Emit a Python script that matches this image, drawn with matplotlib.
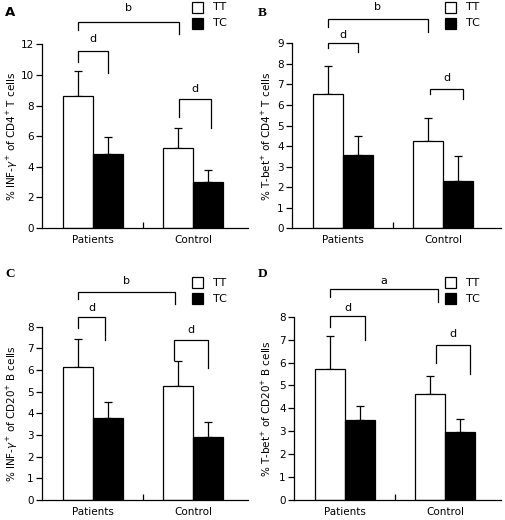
import matplotlib
matplotlib.use("Agg")
import matplotlib.pyplot as plt
from matplotlib.patches import Rectangle
import numpy as np

W, H = 506, 520

groups = ["Patients", "Control"]
series = ["TT", "TC"]

# panel A: INF-gamma+ of CD4+ T cells
a_tt = [8.65, 5.2]
a_tt_err = [1.6, 1.3]
a_tc = [4.85, 3.0]
a_tc_err = [1.1, 0.8]

# panel B: T-bet+ of CD4+ T cells
b_tt = [6.52, 4.25]
b_tt_err = [1.37, 1.13]
b_tc = [3.57, 2.30]
b_tc_err = [0.92, 1.22]

# panel C: INF-gamma+ of CD20+ B cells
c_tt = [6.12, 5.25]
c_tt_err = [1.30, 1.17]
c_tc = [3.78, 2.91]
c_tc_err = [0.73, 0.67]

# panel D: T-bet+ of CD20+ B cells
d_tt = [5.70, 4.61]
d_tt_err = [1.46, 0.82]
d_tc = [3.48, 2.95]
d_tc_err = [0.64, 0.57]

plt.rcParams["font.family"] = "DejaVu Sans"
plt.rcParams["font.size"] = 7.5

fig = plt.figure(figsize=(W / 100, H / 100), dpi=100)


def fx(x):
    return x / W


def fy(y):
    return 1 - y / H


def bracket(ax, x0, x1, top, leg0, leg1):
    ax.plot([x0, x0, x1, x1], [leg0, top, top, leg1], color="black", lw=0.9,
            clip_on=False, solid_joinstyle="miter")


def panel(ox, oy, left, y0, ytop, ymax, ystep, tt, tt_err, tc, tc_err,
          ylabel, letter, letter_font, brackets):
    # ox, oy: panel origin in px; left: spine x; y0/ytop: px of 0 and ymax
    ax = fig.add_axes([fx(ox + left), fy(oy + y0), (248 - left) / W,
                       (y0 - ytop) / H])
    x = np.arange(len(groups))
    w = 0.3
    ax.bar(x - w / 2, tt, w, color="white", edgecolor="black", lw=0.9,
           zorder=2)
    ax.bar(x + w / 2, tc, w, color="black", edgecolor="black", lw=0.9,
           zorder=2)
    ax.errorbar(x - w / 2, tt, yerr=[np.zeros(2), tt_err], fmt="none",
                ecolor="black", elinewidth=0.9, capsize=3, capthick=0.9,
                zorder=1)
    ax.errorbar(x + w / 2, tc, yerr=[np.zeros(2), tc_err], fmt="none",
                ecolor="black", elinewidth=0.9, capsize=3, capthick=0.9,
                zorder=1)
    ax.set_xlim(-0.51, -0.51 + (248 - left) / 100)
    ax.set_ylim(0, ymax)
    ax.set_yticks(np.arange(0, ymax + 0.01, ystep))
    ax.set_xticks(x)
    ax.set_xticklabels(groups)
    ax.set_xticks([0.5], minor=True)
    ax.tick_params(axis="x", which="major", length=0, pad=5)
    ax.tick_params(axis="x", which="minor", direction="in", length=4,
                   width=0.9)
    ax.tick_params(axis="y", direction="out", length=4, width=0.9, pad=2)
    for s in ["top", "right"]:
        ax.spines[s].set_visible(False)
    for s in ["left", "bottom"]:
        ax.spines[s].set_linewidth(0.9)
    ax.set_ylabel(ylabel, fontsize=7.5)
    ax.yaxis.set_label_coords(-(left - 20) / (248 - left), 0.5)

    for (x0, x1, top, l0, l1, lab, ty) in brackets:
        bracket(ax, x0, x1, top, l0, l1)
        ax.text((x0 + x1) / 2, ty, lab, ha="center", va="center",
                fontsize=8, clip_on=False)

    # legend boxes
    lx = ox + 192
    ly = oy + (2 if oy == 0 else 17)
    for i, (name, fc) in enumerate(zip(series, ["white", "black"])):
        yy = ly + i * 16
        fig.add_artist(Rectangle((fx(lx), fy(yy + 11)), 11 / W, 11 / H,
                                 facecolor=fc, edgecolor="black", lw=0.9,
                                 transform=fig.transFigure))
        fig.text(fx(lx + 21), fy(yy + 5.5), name, ha="left", va="center",
                 fontsize=8)

    fig.text(fx(ox + 5), fy(oy + (13 if oy == 0 else 14)), letter,
             ha="left", va="center", fontsize=9.5, fontweight="bold",
             family=letter_font)
    return ax


panel(0, 0, 42, 228, 44.3, 12, 2, a_tt, a_tt_err, a_tc, a_tc_err,
      "% INF-$\\gamma^{+}$ of CD4$^{+}$ T cells", "A", "DejaVu Sans",
      [(-0.15, 0.86, 13.46, 12.94, 12.65, "b", 14.4),
       (-0.15, 0.15, 11.59, 10.84, 10.1, "d", 12.33),
       (0.86, 1.18, 8.4, 7.27, 6.55, "d", 9.05)])

panel(253, 0, 39, 228.3, 43.3, 9, 1, b_tt, b_tt_err, b_tc, b_tc_err,
      "% T-bet$^{+}$ of CD4$^{+}$ T cells", "B", "Liberation Serif",
      [(-0.15, 0.85, 10.18, 9.77, 9.53, "b", 10.75),
       (-0.15, 0.15, 9.0, 8.78, 8.56, "d", 9.4),
       (0.87, 1.2, 6.8, 6.52, 6.29, "d", 7.29)])

panel(0, 260, 42, 240, 66.7, 8, 1, c_tt, c_tt_err, c_tc, c_tc_err,
      "% INF-$\\gamma^{+}$ of CD20$^{+}$ B cells", "C", "Liberation Serif",
      [(-0.15, 0.82, 9.62, 9.26, 9.03, "b", 10.12),
       (-0.15, 0.12, 8.46, 7.92, 7.38, "d", 8.88),
       (0.81, 1.15, 7.38, 6.46, 6.08, "d", 7.85)])

panel(253, 260, 41, 240, 56.7, 8, 1, d_tt, d_tt_err, d_tc, d_tc_err,
      "% T-bet$^{+}$ of CD20$^{+}$ B cells", "D", "Liberation Serif",
      [(-0.15, 0.93, 9.22, 8.87, 8.65, "a", 9.57),
       (-0.15, 0.2, 8.04, 7.56, 6.98, "d", 8.39),
       (0.91, 1.25, 6.75, 6.0, 5.5, "d", 7.24)])

fig.savefig("out.png", dpi=100)
